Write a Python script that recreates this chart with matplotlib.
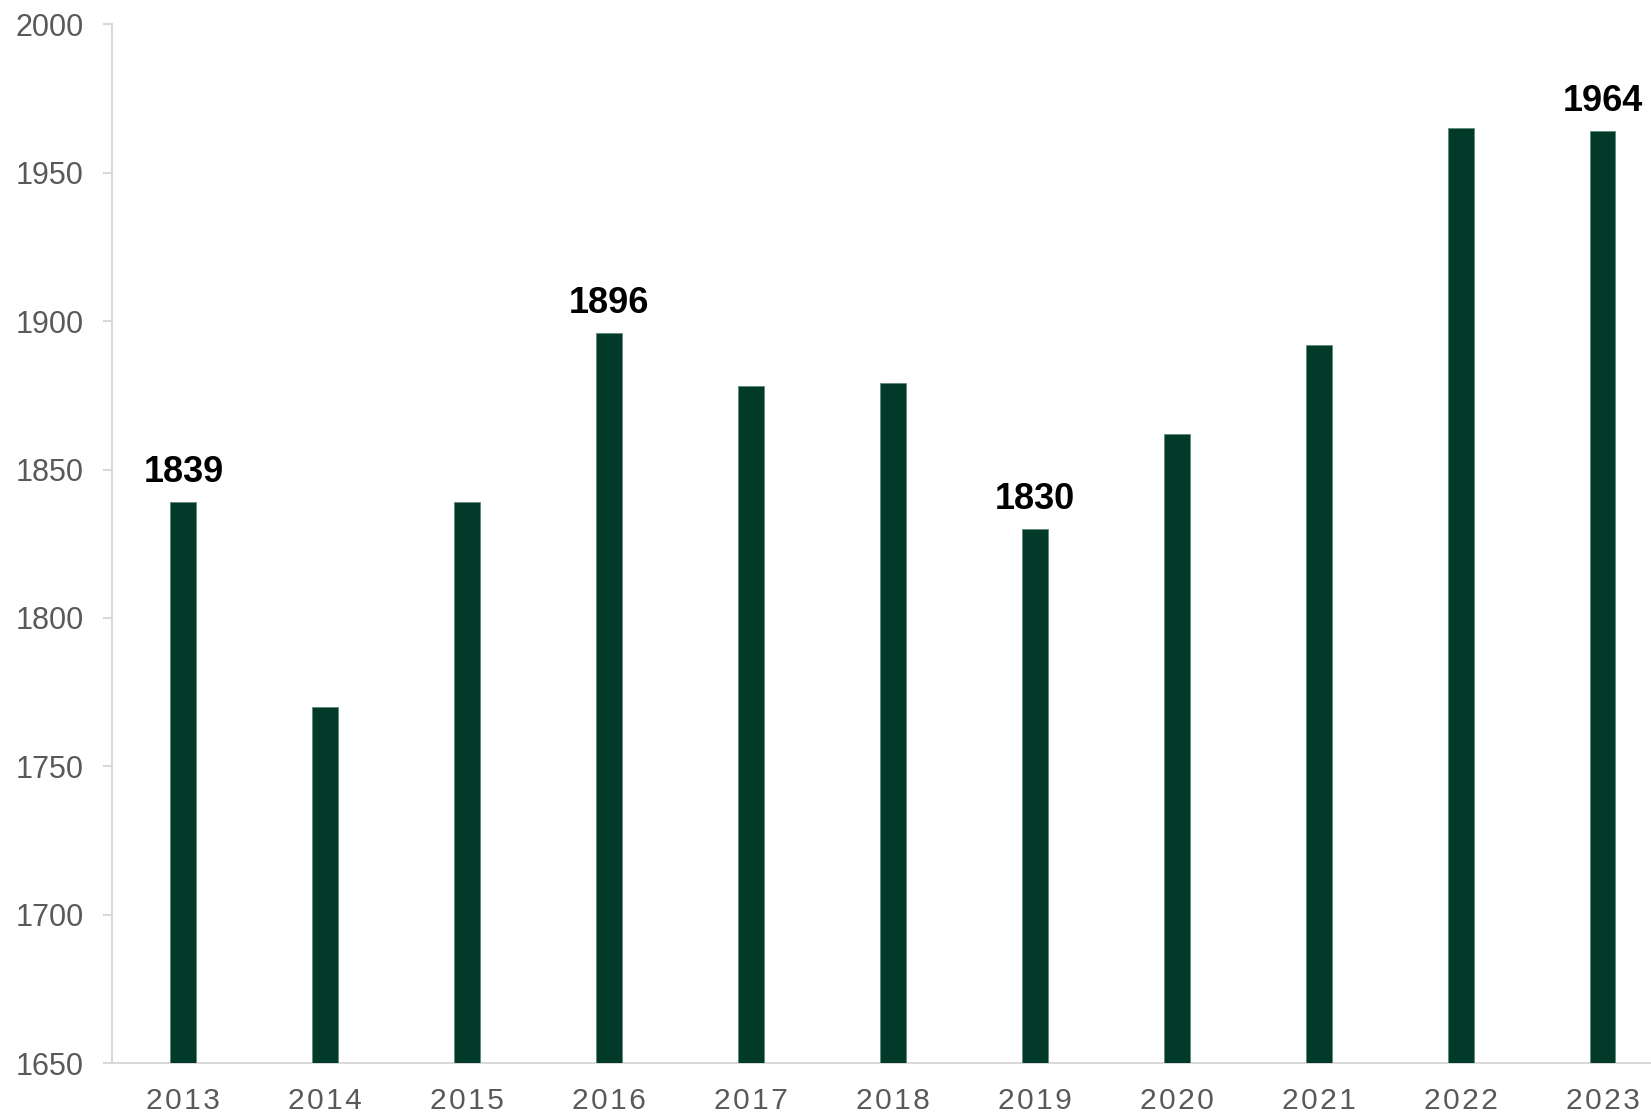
import matplotlib.pyplot as plt
import numpy as np

plt.rcParams["font.family"] = ["Liberation Sans", "DejaVu Sans"]

years = ["2013", "2014", "2015", "2016", "2017", "2018",
         "2019", "2020", "2021", "2022", "2023"]
values = [1839, 1770, 1839, 1896, 1878, 1879, 1830, 1862, 1892, 1965, 1964]
labelled = ["2013", "2016", "2019", "2023"]
y_ticks = [1650, 1700, 1750, 1800, 1850, 1900, 1950, 2000]

bar_color = "#013A28"
axis_gray = "#D9D9D9"
text_gray = "#595959"

fig = plt.figure(figsize=(16.51, 11.12), dpi=100)
# axes runs past the right edge, as in the cropped original
ax = fig.add_axes([0.0681, 0.0438, 0.9455, 0.9344])

x = np.arange(len(years))
bars = ax.bar(x, values, width=0.183, color=bar_color,
              edgecolor="#5E8B78", linewidth=0.6, zorder=3)

ax.set_xlim(-0.5, len(years) - 0.5)
ax.set_ylim(y_ticks[0], y_ticks[-1])
ax.set_yticks(y_ticks)
ax.set_xticks(x)
# the original spreads the year digits a little
ax.set_xticklabels(["\u200a".join(y) for y in years])

for yr, v, b in zip(years, values, bars):
    if yr in labelled:
        ax.annotate(str(v), (b.get_x() + b.get_width() / 2, v),
                    xytext=(0, 8.5), textcoords="offset points",
                    ha="center", va="bottom", fontsize=26,
                    fontweight="bold", color="black")

for side in ["top", "right"]:
    ax.spines[side].set_visible(False)
for side in ["left", "bottom"]:
    ax.spines[side].set_color(axis_gray)
    ax.spines[side].set_linewidth(1.5)

ax.tick_params(axis="y", colors=axis_gray, labelcolor=text_gray,
               labelsize=22, length=6.5, width=1.5, pad=14)
ax.tick_params(axis="x", length=0, labelcolor=text_gray,
               labelsize=21.5, pad=17)

fig.savefig("out.png", dpi=100)
